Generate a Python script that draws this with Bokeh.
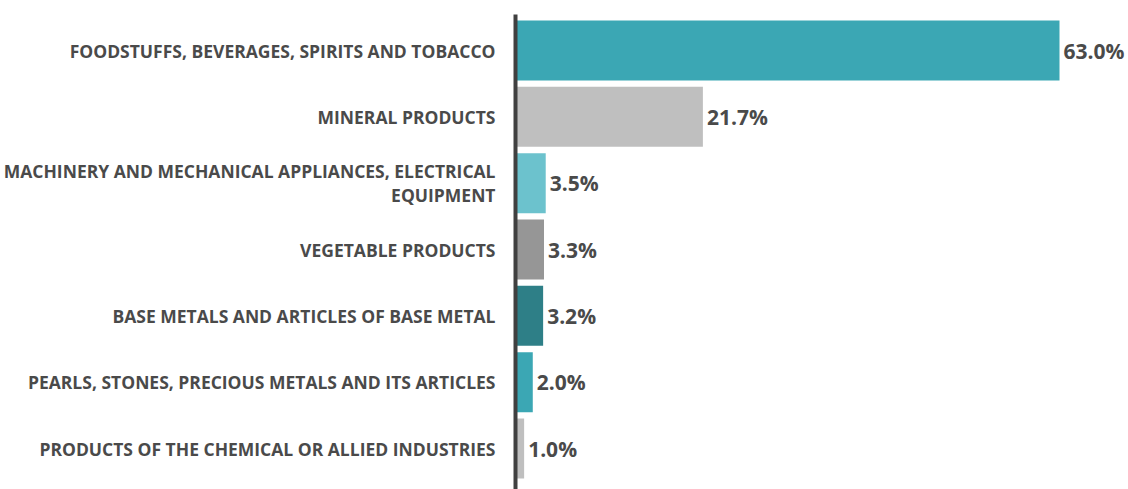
from bokeh.plotting import figure
from bokeh.models import ColumnDataSource, Range1d, FixedTicker, LabelSet
from bokeh.core.properties import value
from bokeh.embed import file_html
from bokeh.resources import INLINE

categories = [
    "FOODSTUFFS, BEVERAGES, SPIRITS AND TOBACCO",
    "MINERAL PRODUCTS",
    "MACHINERY AND MECHANICAL APPLIANCES, ELECTRICAL\nEQUIPMENT",
    "VEGETABLE PRODUCTS",
    "BASE METALS AND ARTICLES OF BASE METAL",
    "PEARLS, STONES, PRECIOUS METALS AND ITS ARTICLES",
    "PRODUCTS OF THE CHEMICAL OR ALLIED INDUSTRIES",
]
shares = [63.0, 21.7, 3.5, 3.3, 3.2, 2.0, 1.0]
colors = ["#3BA7B4", "#BFBFBF", "#6CC2CD", "#969696", "#2E7F87", "#3BA7B4", "#BFBFBF"]

pos = list(range(len(categories)))
src = ColumnDataSource(dict(
    y=pos, v=shares, c=colors,
    lbl=[f"{s:.1f}%" for s in shares],
))

p = figure(width=1128, height=489, output_backend="svg", toolbar_location=None,
           x_range=Range1d(0, 70.99), y_range=Range1d(6.618, -0.543),
           min_border_left=515, min_border_right=0, min_border_top=14, min_border_bottom=0)
p.outline_line_color = None
p.grid.visible = False
p.xaxis.visible = False

p.hbar(y="y", right="v", left=0, height=0.905, fill_color="c", line_color=None, source=src)

p.yaxis.ticker = FixedTicker(ticks=pos)
p.yaxis.major_label_overrides = {i: c for i, c in enumerate(categories)}
p.yaxis.major_tick_in = 0
p.yaxis.major_tick_out = 0
p.yaxis.minor_tick_in = 0
p.yaxis.minor_tick_out = 0
p.yaxis.axis_line_color = "#404040"
p.yaxis.axis_line_width = 4
p.yaxis.major_label_standoff = 20
p.yaxis.major_label_text_font = "Open Sans"
p.yaxis.major_label_text_font_style = "bold"
p.yaxis.major_label_text_font_size = "17.5px"
p.yaxis.major_label_text_line_height = 1.0
p.yaxis.major_label_text_color = "#4A4A4A"

labels = LabelSet(x="v", y="y", text="lbl", source=src, x_offset=4,
                  text_baseline="middle", text_align="left",
                  text_font=value("Open Sans"), text_font_style="bold",
                  text_font_size="21px", text_color="#4A4A4A")
p.add_layout(labels)

open("out.html", "w").write(file_html(p, INLINE))
